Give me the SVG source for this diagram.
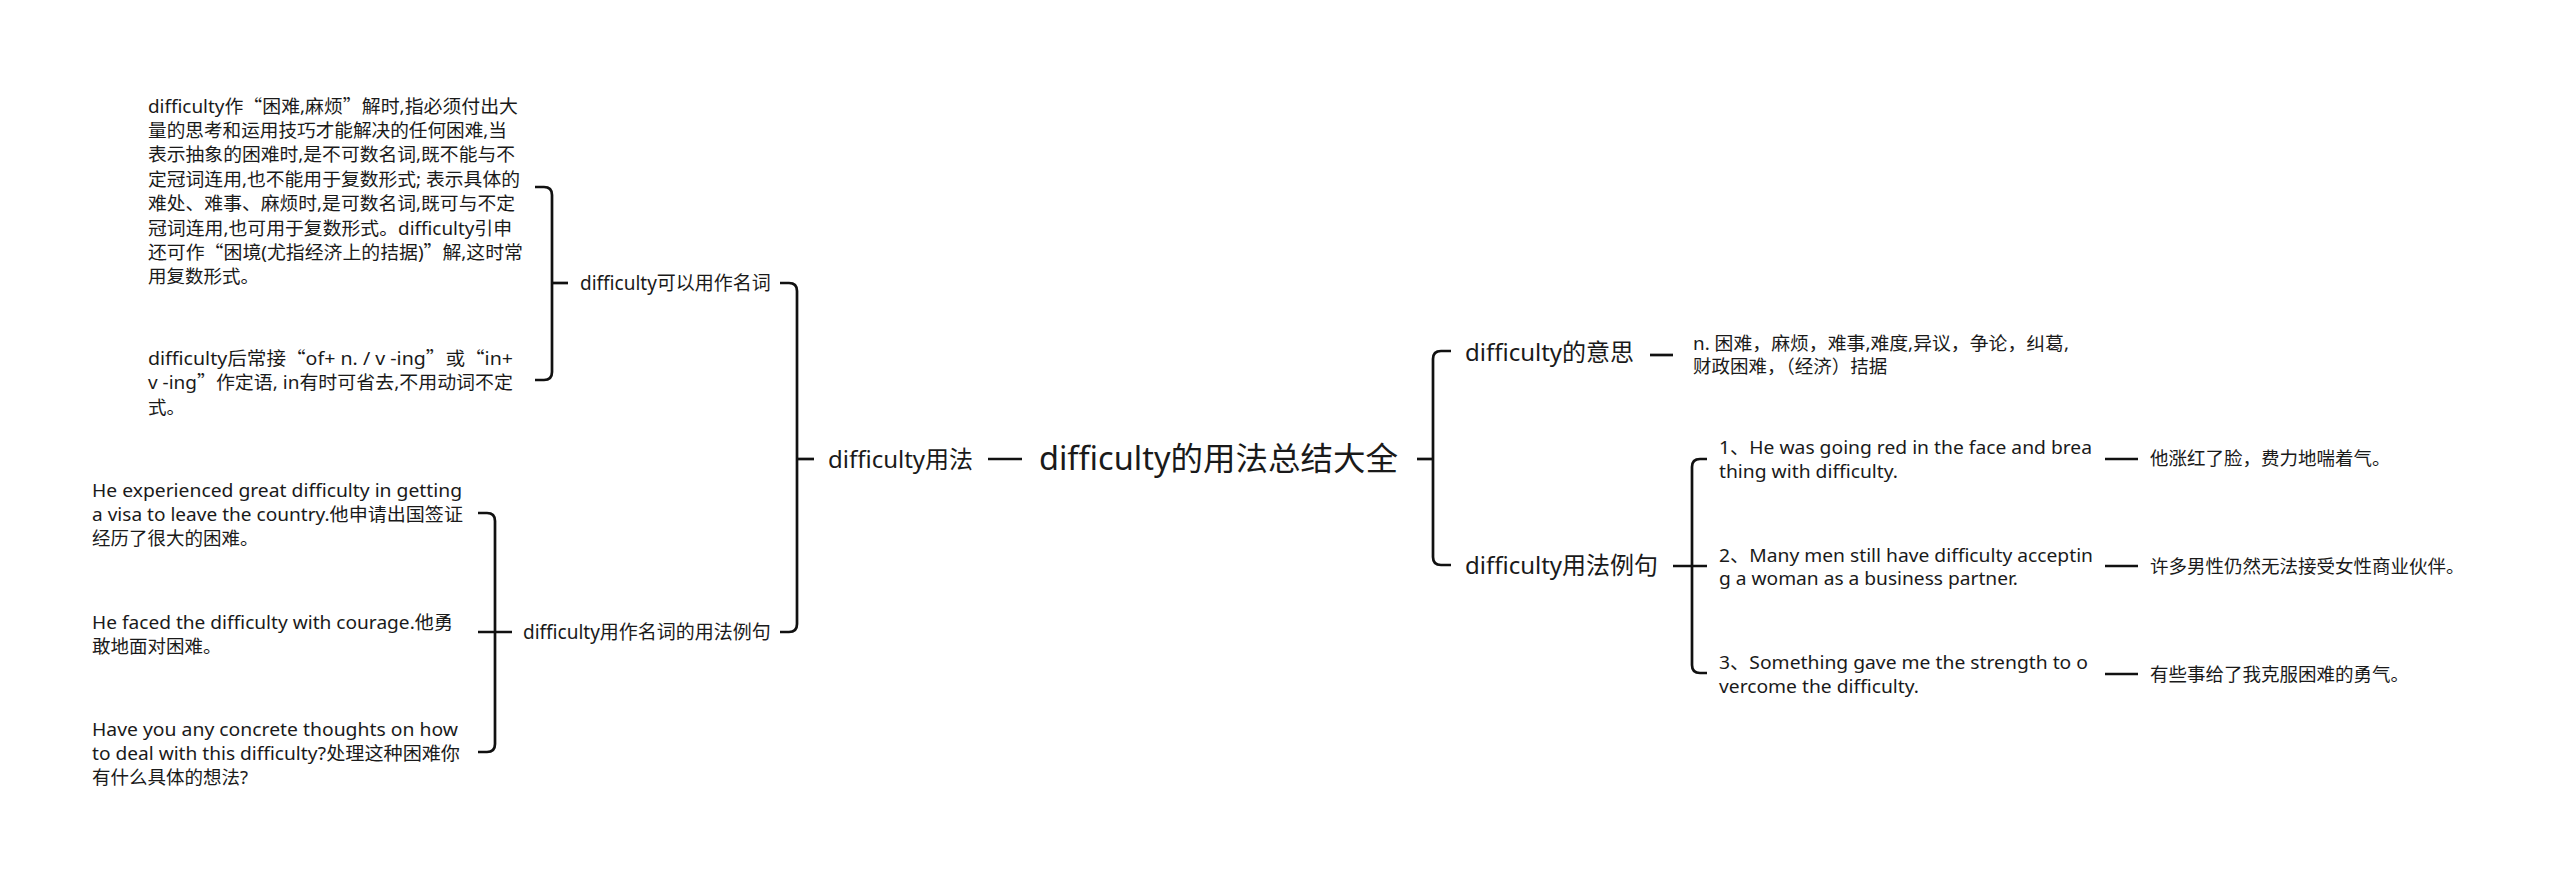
<svg xmlns="http://www.w3.org/2000/svg" width="2560" height="879" viewBox="0 0 2560 879">
<style>
text{font-family:"Noto Sans","Noto Sans CJK SC",sans-serif;fill:#1a1a1a}
.root{font-size:32px}
.l1{font-size:24px}
.l2{font-size:19px}
.leaf{font-size:18.5px}
.q{font-family:"Noto Sans CJK SC",sans-serif}
.conn path{fill:none;stroke:#111;stroke-width:2.7;stroke-linecap:butt}
</style>
<rect width="2560" height="879" fill="#fff"/>
<g class="conn" id="connectors">
<path d="M988,459 H1022"/>
<path d="M1417,459 H1433"/>
<path d="M780,283 H789 Q797,283 797,291 V624 Q797,632 789,632 H780"/>
<path d="M797,459 H814"/>
<path d="M535,187 H544 Q552,187 552,195 V372 Q552,380 544,380 H535"/>
<path d="M552,283 H568"/>
<path d="M478,513 H487 Q495,513 495,521 V744 Q495,752 487,752 H478"/>
<path d="M478,632 H512"/>
<path d="M1451,351 H1441 Q1433,351 1433,359 V557 Q1433,565 1441,565 H1451"/>
<path d="M1650,355 H1673"/>
<path d="M1707,459 H1700 Q1692,459 1692,467 V665 Q1692,673 1700,673 H1707"/>
<path d="M1673,566 H1707"/>
<path d="M2105,459 H2138"/>
<path d="M2105,566 H2138"/>
<path d="M2105,674 H2138"/>
</g>
<g id="root"><text class="root" x="1039" y="470" textLength="359" lengthAdjust="spacingAndGlyphs">difficulty的用法总结大全</text></g>
<g id="usage"><text class="l1" x="828" y="467.5">difficulty用法</text></g>
<g id="noun"><text class="l2" x="580" y="290">difficulty可以用作名词</text></g>
<g id="noun-examples"><text class="l2" x="523" y="639">difficulty用作名词的用法例句</text></g>
<g id="noun-desc1"><text class="leaf">
<tspan x="148" y="112.5" textLength="370" lengthAdjust="spacingAndGlyphs">difficulty作<tspan class="q">“</tspan>困难,麻烦<tspan class="q">”</tspan>解时,指必须付出大</tspan>
<tspan x="148" y="136.9" textLength="359" lengthAdjust="spacingAndGlyphs">量的思考和运用技巧才能解决的任何困难,当</tspan>
<tspan x="148" y="161.3" textLength="367" lengthAdjust="spacingAndGlyphs">表示抽象的困难时,是不可数名词,既不能与不</tspan>
<tspan x="148" y="185.7" textLength="372" lengthAdjust="spacingAndGlyphs">定冠词连用,也不能用于复数形式; 表示具体的</tspan>
<tspan x="148" y="210.1" textLength="367" lengthAdjust="spacingAndGlyphs">难处、难事、麻烦时,是可数名词,既可与不定</tspan>
<tspan x="148" y="234.5" textLength="364" lengthAdjust="spacingAndGlyphs">冠词连用,也可用于复数形式。difficulty引申</tspan>
<tspan x="148" y="258.9" textLength="375" lengthAdjust="spacingAndGlyphs">还可作<tspan class="q">“</tspan>困境(尤指经济上的拮据)<tspan class="q">”</tspan>解,这时常</tspan>
<tspan x="148" y="283.3">用复数形式。</tspan>
</text></g>
<g id="noun-desc2"><text class="leaf">
<tspan x="148" y="364.5" textLength="365" lengthAdjust="spacingAndGlyphs">difficulty后常接<tspan class="q">“</tspan>of+ n. / v -ing<tspan class="q">”</tspan>或<tspan class="q">“</tspan>in+</tspan>
<tspan x="148" y="389" textLength="365" lengthAdjust="spacingAndGlyphs">v -ing<tspan class="q">”</tspan>作定语, in有时可省去,不用动词不定</tspan>
<tspan x="148" y="413.5">式。</tspan>
</text></g>
<g id="ex-left1"><text class="leaf">
<tspan x="92" y="496.5" textLength="370" lengthAdjust="spacingAndGlyphs">He experienced great difficulty in getting</tspan>
<tspan x="92" y="520.5" textLength="371" lengthAdjust="spacingAndGlyphs">a visa to leave the country.他申请出国签证</tspan>
<tspan x="92" y="544.5">经历了很大的困难。</tspan>
</text></g>
<g id="ex-left2"><text class="leaf">
<tspan x="92" y="628.5" textLength="361" lengthAdjust="spacingAndGlyphs">He faced the difficulty with courage.他勇</tspan>
<tspan x="92" y="652.5">敢地面对困难。</tspan>
</text></g>
<g id="ex-left3"><text class="leaf">
<tspan x="92" y="735.5" textLength="366" lengthAdjust="spacingAndGlyphs">Have you any concrete thoughts on how</tspan>
<tspan x="92" y="759.5" textLength="368" lengthAdjust="spacingAndGlyphs">to deal with this difficulty?处理这种困难你</tspan>
<tspan x="92" y="784">有什么具体的想法?</tspan>
</text></g>
<g id="meaning"><text class="l1" x="1465" y="360.5">difficulty的意思</text></g>
<g id="meaning-text"><text class="leaf">
<tspan x="1693" y="349.5" textLength="376" lengthAdjust="spacingAndGlyphs">n. 困难，麻烦，难事,难度,异议，争论，纠葛,</tspan>
<tspan x="1693" y="372.5">财政困难，（经济）拮据</tspan>
</text></g>
<g id="examples"><text class="l1" x="1465" y="573.5">difficulty用法例句</text></g>
<g id="ex1"><text class="leaf">
<tspan x="1719" y="453.5" textLength="373" lengthAdjust="spacingAndGlyphs">1、He was going red in the face and brea</tspan>
<tspan x="1719" y="477.5" textLength="179" lengthAdjust="spacingAndGlyphs">thing with difficulty.</tspan>
</text></g>
<g id="ex2"><text class="leaf">
<tspan x="1719" y="561.5" textLength="374" lengthAdjust="spacingAndGlyphs">2、Many men still have difficulty acceptin</tspan>
<tspan x="1719" y="584.5" textLength="299" lengthAdjust="spacingAndGlyphs">g a woman as a business partner.</tspan>
</text></g>
<g id="ex3"><text class="leaf">
<tspan x="1719" y="668.5" textLength="369" lengthAdjust="spacingAndGlyphs">3、Something gave me the strength to o</tspan>
<tspan x="1719" y="692.5" textLength="200" lengthAdjust="spacingAndGlyphs">vercome the difficulty.</tspan>
</text></g>
<g id="tr1"><text class="leaf" x="2150" y="465">他涨红了脸，费力地喘着气。</text></g>
<g id="tr2"><text class="leaf" x="2150" y="573">许多男性仍然无法接受女性商业伙伴。</text></g>
<g id="tr3"><text class="leaf" x="2150" y="681">有些事给了我克服困难的勇气。</text></g>
</svg>
